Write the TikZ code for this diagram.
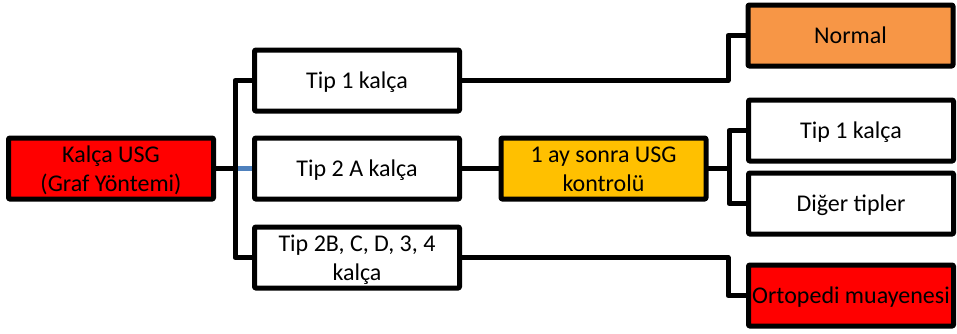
\documentclass[tikz,border=0pt]{standalone}
\usepackage{fontspec}
\setmainfont{Carlito}
\definecolor{boxred}{HTML}{FF0000}
\definecolor{boxorange}{HTML}{F79646}
\definecolor{boxamber}{HTML}{FFC000}
\definecolor{linkblue}{HTML}{4F81BD}
% fixed line strut so every text line sits at the same height
\newcommand\linestrut{\rule[-6pt]{0pt}{28.7pt}}
\begin{document}
\begin{tikzpicture}[x=1pt,y=-1pt,
  box/.style={draw=black, line width=5pt, line join=round, rounded corners=1pt,
    fill=white, minimum width=205pt, minimum height=61pt, inner sep=0pt,
    align=center, font=\fontsize{24}{29}\selectfont},
  link/.style={draw=black, line width=5pt, line join=round, line cap=round}]
\useasboundingbox (0,0) rectangle (957,333);

% boxes
\node[box, fill=boxred]    (usg)     at (111,168.5)   {\linestrut Kalça USG\\\linestrut (Graf Yöntemi)};
\node[box]                 (tip1)    at (357,80.5)    {\linestrut Tip 1 kalça};
\node[box]                 (tip2a)   at (357,168.5)   {\linestrut Tip 2 A kalça};
\node[box]                 (tip2b)   at (357,257.5)   {\linestrut Tip 2B, C, D, 3, 4\\\linestrut kalça};
\node[box, fill=boxamber]  (kontrol) at (603.5,168.5) {\linestrut 1 ay sonra USG\\\linestrut kontrolü};
\node[box, fill=boxorange] (normal)  at (850.5,35.5)  {\linestrut Normal};
\node[box]                 (rtip1)   at (851,130.5)   {\linestrut Tip 1 kalça};
\node[box]                 (diger)   at (851,203.5)   {\linestrut Diğer tipler};
\node[box, fill=boxred]    (orto)    at (851,295.5)   {\linestrut Ortopedi muayenesi};

% bend columns
\coordinate (trunk) at (235,0);
\coordinate (colA)  at (728,0);
\coordinate (colB)  at (729,0);

% first split
\draw[link, line cap=butt] (usg.east) -- (usg.east -| trunk);
\draw[draw=linkblue, line width=5pt] (usg.east -| trunk) -- (tip2a.west);
\draw[link] (tip1.west) -- (tip1.west -| trunk) -- (tip2b.west -| trunk) -- (tip2b.west);

% outcomes
\draw[link] (tip1.east) -- (tip1.east -| colA) -- (normal.west -| colA) -- (normal.west);
\draw[link] (tip2a.east) -- (kontrol.west);
\draw[link] (tip2b.east) -- (tip2b.east -| colA) -- (orto.west -| colA) -- (orto.west);

% follow-up split
\draw[link] (kontrol.east) -- (kontrol.east -| colB);
\draw[link] (rtip1.west) -- (rtip1.west -| colB) -- (diger.west -| colB) -- (diger.west);
\end{tikzpicture}
\end{document}
